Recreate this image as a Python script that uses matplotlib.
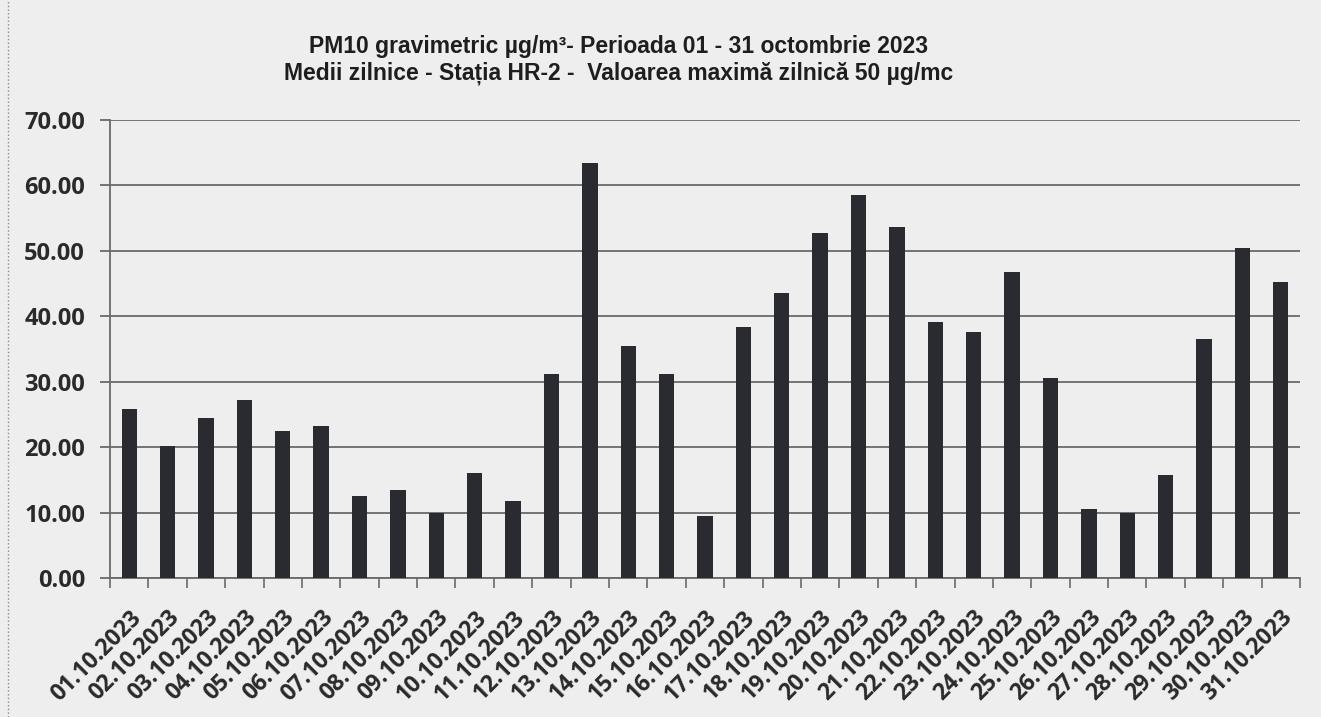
import matplotlib
matplotlib.use("Agg")
import matplotlib.pyplot as plt
from matplotlib.lines import Line2D
import numpy as np

dates = ["01.10.2023", "02.10.2023", "03.10.2023", "04.10.2023", "05.10.2023",
         "06.10.2023", "07.10.2023", "08.10.2023", "09.10.2023", "10.10.2023",
         "11.10.2023", "12.10.2023", "13.10.2023", "14.10.2023", "15.10.2023",
         "16.10.2023", "17.10.2023", "18.10.2023", "19.10.2023", "20.10.2023",
         "21.10.2023", "22.10.2023", "23.10.2023", "24.10.2023", "25.10.2023",
         "26.10.2023", "27.10.2023", "28.10.2023", "29.10.2023", "30.10.2023",
         "31.10.2023"]
pm10 = [25.8, 20.1, 24.5, 27.2, 22.5, 23.3, 12.5, 13.5, 10.0, 16.1,
        11.7, 31.2, 63.5, 35.4, 31.2, 9.5, 38.4, 43.6, 52.7, 58.6,
        53.7, 39.2, 37.6, 46.7, 30.5, 10.6, 9.9, 15.8, 36.5, 50.4, 45.2]
yticks = [0, 10, 20, 30, 40, 50, 60, 70]

title1 = "PM10 gravimetric µg/m³- Perioada 01 - 31 octombrie 2023"
title2 = "Medii zilnice - Stația HR-2 -  Valoarea maximă zilnică 50 µg/mc"

bg = "#eeeeee"
fig = plt.figure(figsize=(13.21, 7.17), dpi=100, facecolor=bg)
ax = fig.add_axes([110/1321, 1 - 578/717, (1300-110)/1321, (578-120)/717])
ax.set_facecolor(bg)

x = np.arange(len(dates))
ax.bar(x, pm10, width=0.4, color="#2a2a31", zorder=3)

ax.set_xlim(-0.5, len(dates) - 0.5)
ax.set_ylim(0, 70)
ax.set_yticks(yticks)
ax.set_yticklabels([f"{v:.2f}" for v in yticks], fontfamily="Open Sans",
                   fontweight="bold", fontsize=17, color="#2a2a2a")
ax.yaxis.grid(True, color="#6a6a6a", linewidth=1.3, zorder=1)
ax.tick_params(axis="y", length=7, color="#6a6a6a", width=1.3, pad=11)

ax.set_xticks(np.arange(-0.5, len(dates), 1.0))
ax.set_xticklabels([])
ax.set_xticks(x, minor=True)
ax.set_xticklabels(dates, minor=True, rotation=45, ha="right",
                   rotation_mode="anchor", fontfamily="Open Sans",
                   fontweight="bold", fontsize=16.5, color="#2a2a2a")
ax.tick_params(axis="x", which="major", length=7, color="#6a6a6a", width=1.2)
ax.tick_params(axis="x", which="minor", length=0, pad=20)

for s in ["top", "right"]:
    ax.spines[s].set_visible(False)
for s in ["left", "bottom"]:
    ax.spines[s].set_color("#6a6a6a")
    ax.spines[s].set_linewidth(1.3)

fig.text(619/1321, 1 - 46/717, title1, ha="center", va="center",
         fontfamily="Liberation Sans", fontweight="bold", fontsize=16.5,
         color="#1e1e1e")
fig.text(619/1321, 1 - 73/717, title2, ha="center", va="center",
         fontfamily="Liberation Sans", fontweight="bold", fontsize=16.5,
         color="#1e1e1e")

fig.add_artist(Line2D([8/1321, 8/1321], [0, 1], transform=fig.transFigure,
                      color="#8a8a8a", linewidth=1, linestyle=":"))

fig.savefig("out.png", dpi=100, facecolor=bg)
